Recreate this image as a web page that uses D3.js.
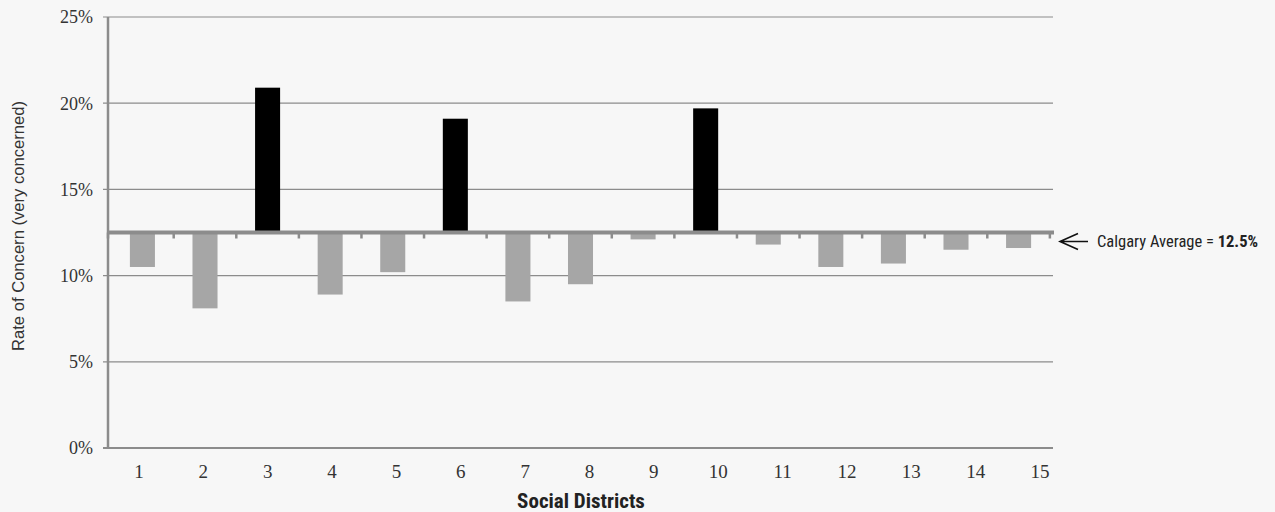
<!DOCTYPE html>
<html><head><meta charset="utf-8">
<script src="https://cdn.jsdelivr.net/npm/d3@7"></script>
<style>
html,body{margin:0;padding:0;background:#f7f7f7;}
svg{display:block;}
</style></head>
<body>
<script>
const districts = ["1","2","3","4","5","6","7","8","9","10","11","12","13","14","15"];
const rates = [10.5, 8.1, 20.9, 8.9, 10.2, 19.1, 8.5, 9.5, 12.1, 19.7, 11.8, 10.5, 10.7, 11.5, 11.6];
const average = 12.5;
const yTicks = [0, 5, 10, 15, 20, 25];

const W = 1275, H = 512;
const m = {left: 108, right: 222, top: 17, bottom: 64};
const svg = d3.select("body").append("svg").attr("width", W).attr("height", H);

const x = d3.scaleBand().domain(districts).range([m.left, W - m.right]).paddingInner(0.6).paddingOuter(0.35);
const xl = d3.scalePoint().domain(districts).range([139, 1040]);
const y = d3.scaleLinear().domain([0, 25]).range([H - m.bottom, m.top]);

// gridlines
svg.append("g").selectAll("line").data(yTicks).join("line")
  .attr("x1", m.left - 5).attr("x2", W - m.right)
  .attr("y1", d => y(d)).attr("y2", d => y(d))
  .attr("stroke", "#8c8c8c").attr("stroke-width", d => d === 0 ? 2 : 1.2);

// y labels
svg.append("g").selectAll("text").data(yTicks).join("text")
  .attr("x", m.left - 15).attr("y", d => y(d)).attr("dy", "0.35em")
  .attr("text-anchor", "end")
  .attr("font-family", "Liberation Serif, Times New Roman, serif")
  .attr("font-size", 18).attr("fill", "#333")
  .text(d => d + "%");

// bars
svg.append("g").selectAll("rect").data(rates).join("rect")
  .attr("x", (d, i) => x(districts[i]))
  .attr("width", x.bandwidth())
  .attr("y", d => y(Math.max(d, average)))
  .attr("height", d => Math.abs(y(d) - y(average)))
  .attr("fill", d => d > average ? "#000" : "#a6a6a6");

// y axis
svg.append("line").attr("x1", m.left).attr("x2", m.left)
  .attr("y1", y(25)).attr("y2", y(0)).attr("stroke", "#8c8c8c").attr("stroke-width", 2.5);

// average line
const ya = y(average);
svg.append("line").attr("x1", m.left).attr("x2", W - m.right + 1)
  .attr("y1", ya).attr("y2", ya).attr("stroke", "#8c8c8c").attr("stroke-width", 4);
const bounds = districts.map(d => Math.min(x(d) + x.bandwidth() / 2 + x.step() / 2, W - m.right));
svg.append("g").selectAll("line").data(bounds).join("line")
  .attr("x1", d => d).attr("x2", d => d)
  .attr("y1", ya).attr("y2", ya + 6)
  .attr("stroke", "#8c8c8c").attr("stroke-width", 2.5);
svg.append("line").attr("x1", m.left).attr("x2", m.left).attr("y1", ya).attr("y2", ya + 6)
  .attr("stroke", "#8c8c8c").attr("stroke-width", 2.5);

// x labels
svg.append("g").selectAll("text").data(districts).join("text")
  .attr("x", d => xl(d)).attr("y", y(0) + 30)
  .attr("text-anchor", "middle")
  .attr("font-family", "Liberation Serif, Times New Roman, serif")
  .attr("font-size", 19).attr("fill", "#333")
  .text(d => d);

// axis titles
svg.append("text").attr("x", 581).attr("y", 508)
  .attr("text-anchor", "middle")
  .attr("font-family", "Liberation Sans Narrow, Roboto Condensed, Arial Narrow, sans-serif")
  .attr("font-weight", "bold").attr("font-size", 21).attr("fill", "#222")
  .text("Social Districts");

svg.append("text").attr("transform", `translate(24, 226) rotate(-90)`)
  .attr("text-anchor", "middle")
  .attr("font-family", "Liberation Sans, Arial, sans-serif")
  .attr("font-size", 16.6).attr("fill", "#333")
  .text("Rate of Concern (very concerned)");

// annotation arrow
const ax = W - m.right + 7;
svg.append("path")
  .attr("d", `M${ax + 28},${ya + 9} L${ax},${ya + 9} M${ax + 18},${ya + 1} L${ax},${ya + 9} L${ax + 18},${ya + 17}`)
  .attr("fill", "none").attr("stroke", "#111").attr("stroke-width", 1.6);
const t = svg.append("text").attr("x", 1097).attr("y", ya + 14)
  .attr("font-family", "Liberation Sans Narrow, Roboto Condensed, Arial Narrow, sans-serif")
  .attr("font-size", 16.5).attr("fill", "#222");
t.append("tspan").text("Calgary Average = ");
t.append("tspan").attr("font-weight", "bold").text(average + "%");
</script>
</body></html>
